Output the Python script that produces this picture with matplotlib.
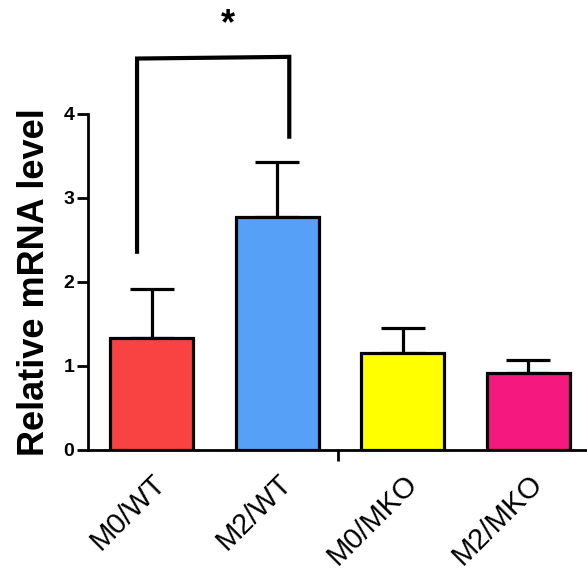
import matplotlib
matplotlib.use("Agg")
import matplotlib.pyplot as plt
from matplotlib.ticker import FixedLocator

plt.rcParams['font.family'] = ['Liberation Sans', 'DejaVu Sans']

groups = ["M0/WT", "M2/WT", "M0/MKO", "M2/MKO"]
means = [1.33, 2.77, 1.16, 0.92]
sem = [0.59, 0.66, 0.29, 0.15]
colors = ["#F94343", "#57A0F8", "#FFFF00", "#F5187F"]
yticks = [0, 1, 2, 3, 4]

fig = plt.figure(figsize=(5.87, 5.78), dpi=100)
ax = fig.add_axes([0.15, 0.2215, 0.85, 0.5813])

x = list(range(len(groups)))
ax.bar(x, means, width=0.66, color=colors, edgecolor="black", linewidth=2.3, zorder=3)
ax.errorbar(x, means, yerr=[[0] * len(sem), sem], fmt="none", ecolor="black",
            elinewidth=2.3, capsize=16, capthick=2.3, zorder=2)

ax.set_xlim(-0.506, 3.466)
ax.set_ylim(0, 4)
ax.set_yticks(yticks)
ax.set_yticklabels([str(v) for v in yticks], fontsize=14, fontweight="bold")

ax.set_xticks(x)
ax.set_xticklabels(groups, rotation=45, ha="right", rotation_mode="anchor", fontsize=21)
ax.tick_params(axis="x", length=0, pad=14)
ax.xaxis.set_minor_locator(FixedLocator([(-0.506 + 3.466) / 2]))
ax.tick_params(axis="x", which="minor", length=8, width=2, direction="out")
ax.tick_params(axis="y", length=8, width=2, pad=2)

for s in ["top", "right"]:
    ax.spines[s].set_visible(False)
for s in ["left", "bottom"]:
    ax.spines[s].set_linewidth(2)

ax.set_ylabel("Relative mRNA level", fontsize=26, fontweight="bold", labelpad=8)

# significance bracket between M0/WT and M2/WT
bx0, bx1 = -0.116, 1.096
ax.plot([bx0, bx0, bx1, bx1], [2.36, 4.66, 4.68, 3.73], color="black",
        linewidth=3, clip_on=False, solid_joinstyle="miter", zorder=4)
ax.text(0.61, 5.06, "*", ha="center", va="center", fontsize=26, fontweight="bold",
        clip_on=False)

fig.savefig("out.png", dpi=100)
